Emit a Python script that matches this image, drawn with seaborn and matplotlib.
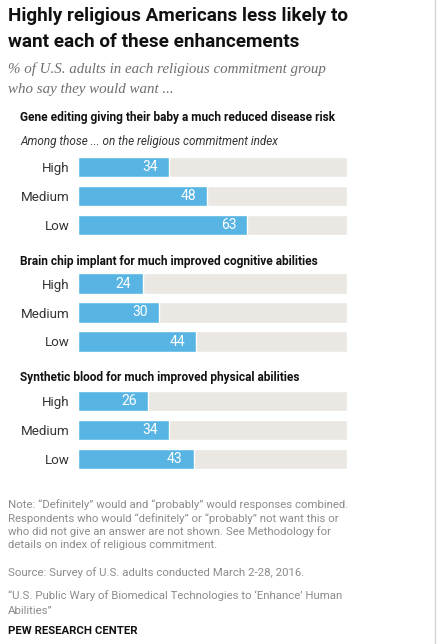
import seaborn as sns
import matplotlib.pyplot as plt
import pandas as pd

groups = ["High", "Medium", "Low"]
gene_editing = [34, 48, 63]
brain_chip = [24, 30, 44]
synthetic_blood = [26, 34, 43]
panel_titles = [
    "Gene editing giving their baby a much reduced disease risk",
    "Brain chip implant for much improved cognitive abilities",
    "Synthetic blood for much improved physical abilities",
]

sns.set_style("white")
plt.rcParams["font.family"] = ["Roboto", "DejaVu Sans"]

W, H = 437, 644
fig = plt.figure(figsize=(W / 100, H / 100), dpi=100)


def fx(x):
    return x / W


def fy(y):
    return 1 - y / H


BLUE = "#58b5e3"
GREY = "#ebe8e3"

# title and subtitle
fig.text(fx(8), fy(16), "Highly religious Americans less likely to", fontsize=13.6,
         fontweight="bold", color="#111111", va="center")
fig.text(fx(8), fy(42), "want each of these enhancements", fontsize=13.6,
         fontweight="bold", color="#111111", va="center")
fig.text(fx(8), fy(69), "% of U.S. adults in each religious commitment group", fontsize=10.8,
         family="Liberation Serif", style="italic", color="#6f6f6f", va="center")
fig.text(fx(8), fy(89), "who say they would want ...", fontsize=10.8,
         family="Liberation Serif", style="italic", color="#6f6f6f", va="center")

panel_values = [gene_editing, brain_chip, synthetic_blood]
title_y = [117, 262, 377]
axes_top = [152.5, 269, 386.5]

for vals, title, ty, top in zip(panel_values, panel_titles, title_y, axes_top):
    fig.text(fx(20), fy(ty), title, fontsize=8.6, fontweight="bold",
             color="#111111", va="center")
    ax = fig.add_axes([fx(78), fy(top + 87), fx(347) - fx(78), 87 / H])
    df = pd.DataFrame({"group": groups, "value": vals, "full": [100] * 3})
    sns.barplot(data=df, y="group", x="full", color=GREY, width=0.69, ax=ax,
                saturation=1)
    sns.barplot(data=df, y="group", x="value", color=BLUE, width=0.69, ax=ax,
                saturation=1)
    for i, v in enumerate(vals):
        ax.annotate(str(v), (v, i), xytext=(-8, 0), textcoords="offset points",
                    ha="right", va="center", color="white", fontsize=10)
    ax.set_xlim(0, 100)
    ax.set_ylim(2.5, -0.5)
    ax.set_xlabel("")
    ax.set_ylabel("")
    ax.set_xticks([])
    ax.tick_params(axis="y", length=0, pad=6, labelsize=9.6, labelcolor="#333333")
    sns.despine(ax=ax, left=True, bottom=True)

fig.text(fx(20), fy(142), "Among those ... on the religious commitment index", fontsize=8.5,
         style="italic", color="#333333", va="center")

foot = "#8c8c8c"
fs = 8.2
note_lines = [
    "Note: \u201cDefinitely\u201d would and \u201cprobably\u201d would responses combined.",
    "Respondents who would \u201cdefinitely\u201d or \u201cprobably\u201d not want this or",
    "who did not give an answer are not shown. See Methodology for",
    "details on index of religious commitment.",
]
for i, line in enumerate(note_lines):
    fig.text(fx(8), fy(505 + i * 13.3), line, fontsize=fs, color=foot, va="center")
fig.text(fx(8), fy(573), "Source: Survey of U.S. adults conducted March 2-28, 2016.",
         fontsize=fs, color=foot, va="center")
fig.text(fx(8), fy(596), "\u201cU.S. Public Wary of Biomedical Technologies to \u2018Enhance\u2019 Human",
         fontsize=fs, color=foot, va="center")
fig.text(fx(8), fy(611), "Abilities\u201d", fontsize=fs, color=foot, va="center")
fig.text(fx(8), fy(631), "PEW RESEARCH CENTER", fontsize=fs,
         fontweight="bold", color="#111111", va="center")

fig.add_artist(plt.Line2D([fx(435), fx(435)], [0, 1], color="#d6d6d6", lw=1))

fig.savefig("out.png", dpi=100)
